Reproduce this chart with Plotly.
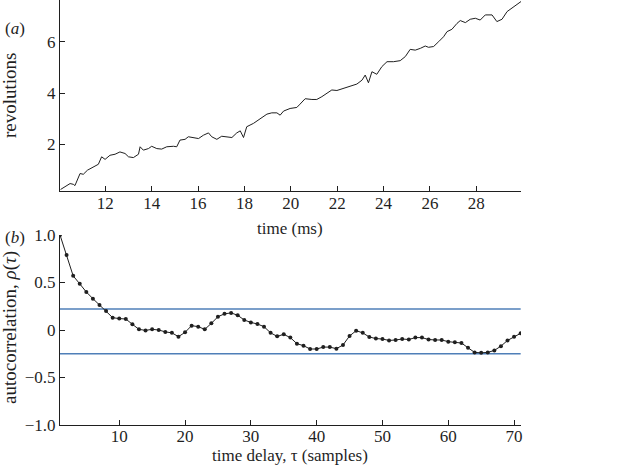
"""Two-panel figure: (a) revolutions over time, (b) autocorrelation by lag."""

import plotly.graph_objects as go
from plotly.subplots import make_subplots

# (a) revolutions against time
time_ms = [
    10.07, 10.26, 10.48, 10.62, 10.69, 10.91, 11.05, 11.23, 11.48, 11.70,
    11.84, 11.99, 12.20, 12.42, 12.63, 12.85, 13.00, 13.21, 13.43, 13.50,
    13.64, 13.86, 14.00, 14.22, 14.43, 14.65, 14.94, 15.08, 15.22, 15.44,
    15.58, 15.80, 16.02, 16.23, 16.45, 16.59, 16.81, 17.02, 17.24, 17.46,
    17.67, 17.82, 17.96, 18.10, 18.39, 18.68, 18.97, 19.18, 19.40, 19.54,
    19.69, 19.97, 20.26, 20.40, 20.62, 20.91, 21.12, 21.34, 21.56, 21.77,
    21.99, 22.28, 22.56, 22.85, 23.07, 23.21, 23.35, 23.50, 23.71, 23.93,
    24.15, 24.43, 24.72, 24.94, 25.15, 25.37, 25.59, 25.80, 25.94, 26.16,
    26.38, 26.59, 26.74, 26.95, 27.17, 27.31, 27.53, 27.74, 27.96, 28.17,
    28.39, 28.68, 28.89, 29.11, 29.33, 29.61, 29.93,
]
revolutions = [
    0.25, 0.35, 0.48, 0.45, 0.40, 0.87, 0.84, 1.00, 1.13, 1.23,
    1.52, 1.42, 1.58, 1.62, 1.71, 1.65, 1.52, 1.49, 1.62, 1.91,
    1.78, 1.84, 1.93, 1.84, 1.82, 1.91, 1.93, 1.91, 2.17, 2.20,
    2.30, 2.27, 2.23, 2.36, 2.45, 2.30, 2.20, 2.32, 2.30, 2.27,
    2.45, 2.53, 2.27, 2.69, 2.82, 3.01, 3.18, 3.23, 3.23, 3.14,
    3.30, 3.40, 3.44, 3.57, 3.78, 3.75, 3.75, 3.86, 4.00, 4.12,
    4.10, 4.19, 4.27, 4.35, 4.50, 4.70, 4.40, 4.83, 4.73, 5.03,
    5.22, 5.22, 5.26, 5.42, 5.70, 5.67, 5.74, 5.83, 5.78, 5.81,
    6.00, 6.19, 6.39, 6.48, 6.71, 6.82, 6.74, 6.87, 6.91, 6.84,
    7.04, 7.04, 6.78, 6.87, 7.17, 7.36, 7.56,
]

# (b) autocorrelation against lag
lag = list(range(1, 72))
autocorr = [
    1.00, 0.79, 0.57, 0.486, 0.40, 0.33, 0.264, 0.20, 0.13, 0.12,
    0.116, 0.06, 0.007, -0.004, 0.007, 0.0, -0.02, -0.03, -0.07, -0.025,
    0.046, 0.035, 0.007, 0.07, 0.14, 0.17, 0.18, 0.155, 0.105, 0.08,
    0.063, 0.035, -0.03, -0.067, -0.046, -0.08, -0.144, -0.165, -0.20, -0.20,
    -0.18, -0.18, -0.197, -0.158, -0.063, -0.007, -0.03, -0.074, -0.09, -0.095,
    -0.11, -0.105, -0.095, -0.10, -0.08, -0.08, -0.10, -0.105, -0.105, -0.123,
    -0.13, -0.137, -0.187, -0.236, -0.24, -0.236, -0.215, -0.17, -0.11, -0.07,
    -0.035,
]
upper_bound = 0.22
lower_bound = -0.25

time_ticks = [12, 14, 16, 18, 20, 22, 24, 26, 28]
rev_ticks = [2, 4, 6]
lag_ticks = [10, 20, 30, 40, 50, 60, 70]
rho_ticks = [-1.0, -0.5, 0, 0.5, 1.0]
rho_ticktext = ["\u22121.0", "\u22120.5", "0", "0.5", "1.0"]

INK = "#1f1f1f"
BAND = "#4f7fb8"
FONT = "Times New Roman, Liberation Serif, serif"
SIZE = 17

# plot area in pixels: left 60, right 521, top 0, bottom 425
PLOT_W, PLOT_H = 461, 425


def px(x, y):
    """Pixel position on the page -> paper coordinates."""
    return (x - 60) / PLOT_W, 1 - y / PLOT_H


fig = make_subplots(rows=2, cols=1)

fig.add_scatter(
    x=time_ms, y=revolutions, mode="lines",
    line=dict(color=INK, width=1), row=1, col=1,
)
for level in (upper_bound, lower_bound):
    fig.add_scatter(
        x=[lag[0], lag[-1]], y=[level, level], mode="lines",
        line=dict(color=BAND, width=1.5), row=2, col=1,
    )
fig.add_scatter(
    x=lag, y=autocorr, mode="lines+markers",
    line=dict(color=INK, width=1),
    marker=dict(color=INK, size=4),
    row=2, col=1,
)

axis_style = dict(
    showline=True, linecolor=INK, linewidth=1,
    ticks="inside", ticklen=5, tickcolor=INK,
    showgrid=False, zeroline=False, mirror=False, automargin=False,
    tickfont=dict(family=FONT, size=SIZE, color=INK),
)

fig.update_xaxes(**axis_style)
fig.update_yaxes(**axis_style)

fig.update_layout(
    width=620, height=473,
    margin=dict(l=60, r=99, t=0, b=48),
    paper_bgcolor="white", plot_bgcolor="white",
    font=dict(family=FONT, size=SIZE, color=INK),
    showlegend=False,
    xaxis=dict(domain=[0, 1], range=[10.045, 29.93], tickvals=time_ticks,
               ticklabelstandoff=-3),
    yaxis=dict(domain=[1 - 191 / PLOT_H, 1], range=[0.19, 7.62],
               tickvals=rev_ticks),
    xaxis2=dict(domain=[0, 1], range=[1, 71.05], tickvals=lag_ticks,
                ticklabelstandoff=-4),
    yaxis2=dict(domain=[0, 1 - 235 / PLOT_H], range=[-1, 1.0],
                tickvals=rho_ticks, ticktext=rho_ticktext),
)

labels = [
    ("(<i>a</i>)", 15, 28, 0, SIZE),
    ("(<i>b</i>)", 15, 237, 0, SIZE),
    ("revolutions", 10, 95, -90, 19),
    ("time (ms)", 290, 228, 0, SIZE),
    ("autocorrelation, <i>\u03c1</i>(<i>\u03c4</i>)", 10, 328, -90, 19),
    ("time delay, \u03c4 (samples)", 290, 455, 0, SIZE),
]
for text, x, y, angle, size in labels:
    ax, ay = px(x, y)
    fig.add_annotation(
        text=text, xref="paper", yref="paper", x=ax, y=ay,
        showarrow=False, xanchor="center", yanchor="middle", textangle=angle,
        font=dict(family=FONT, size=size, color=INK),
    )

fig.write_html(
    "out.html",
    config={"displayModeBar": False},
    post_script="document.body.style.margin = '0';",
)
